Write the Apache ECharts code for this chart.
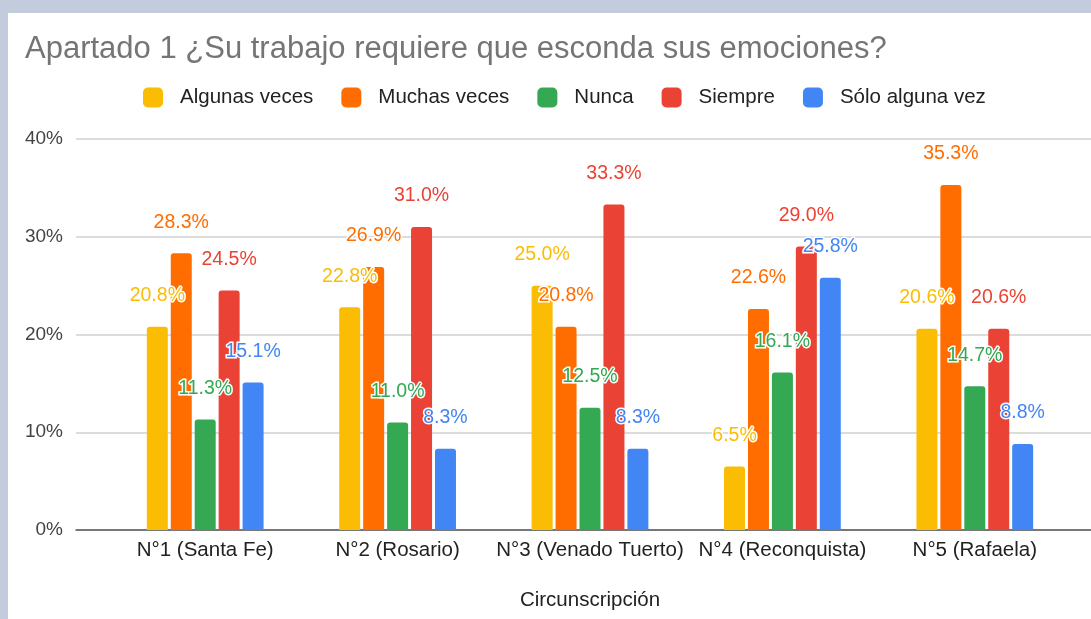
<!DOCTYPE html>
<html>
<head>
<meta charset="utf-8">
<script src="https://cdn.jsdelivr.net/npm/echarts@6/dist/echarts.min.js"></script>
<style>
  html, body { margin: 0; padding: 0; background: #c3ccdc; }
  #card { position: absolute; left: 8px; top: 13px; width: 1083px; height: 606px; background: #fff; }
  #chart { position: absolute; left: 0; top: 0; width: 1091px; height: 619px; }
</style>
</head>
<body>
<div id="card"></div>
<div id="chart"></div>
<script>
  const categories = ["N°1 (Santa Fe)", "N°2 (Rosario)", "N°3 (Venado Tuerto)", "N°4 (Reconquista)", "N°5 (Rafaela)"];
  const seriesNames = ["Algunas veces", "Muchas veces", "Nunca", "Siempre", "Sólo alguna vez"];
  const seriesColors = ["#fbbc04", "#ff6d01", "#34a853", "#ea4335", "#4285f4"];
  const algunasVeces = [20.8, 22.8, 25.0, 6.5, 20.6];
  const muchasVeces = [28.3, 26.9, 20.8, 22.6, 35.3];
  const nunca = [11.3, 11.0, 12.5, 16.1, 14.7];
  const siempre = [24.5, 31.0, 33.3, 29.0, 20.6];
  const soloAlgunaVez = [15.1, 8.3, 8.3, 25.8, 8.8];
  const yTicks = [0, 10, 20, 30, 40];

  const values = [algunasVeces, muchasVeces, nunca, siempre, soloAlgunaVez];
  const font = "Liberation Sans, Arial, sans-serif";

  const chart = echarts.init(document.getElementById("chart"));

  const barSeries = seriesNames.map((name, i) => ({
    name: name,
    type: "bar",
    xAxisIndex: 0,
    yAxisIndex: 0,
    barWidth: 21,
    barGap: "14%",
    data: values[i],
    itemStyle: { color: seriesColors[i], borderRadius: [3, 3, 0, 0] },
    label: {
      show: true,
      position: "top",
      distance: 21,
      color: seriesColors[i],
      fontFamily: font,
      fontSize: 19.5,
      textBorderColor: "#fff",
      textBorderWidth: 3,
      formatter: (p) => p.value.toFixed(1) + "%",
    },
  }));

  chart.setOption({
    animation: false,
    title: {
      text: "Apartado 1 ¿Su trabajo requiere que esconda sus emociones?",
      left: 20,
      top: 29,
      textStyle: { color: "#757575", fontSize: 31, fontWeight: "normal", fontFamily: font },
    },
    legend: {
      data: seriesNames,
      left: 143,
      top: 87,
      padding: 0,
      icon: "roundRect",
      itemWidth: 20,
      itemHeight: 20,
      itemGap: 28,
      textStyle: { color: "#222", fontSize: 20.5, fontFamily: font, padding: [0, 0, 0, 12] },
    },
    grid: [
      { left: 109, right: 20, top: 139, bottom: 89 },
      { left: 76, right: 0, top: 139, bottom: 89 },
    ],
    xAxis: [
      {
        gridIndex: 0,
        type: "category",
        data: categories,
        axisLine: { show: false },
        axisTick: { show: false },
        axisLabel: { color: "#222", fontSize: 20.5, fontFamily: font, margin: 10, interval: 0 },
        name: "Circunscripción",
        nameLocation: "middle",
        nameGap: 60,
        nameTextStyle: { color: "#222", fontSize: 20.5, fontFamily: font },
      },
      {
        gridIndex: 1,
        type: "value",
        min: 0,
        max: 1,
        axisLine: { show: true, lineStyle: { color: "#555", width: 1.5 } },
        axisTick: { show: false },
        axisLabel: { show: false },
        splitLine: { show: false },
      },
    ],
    yAxis: [
      {
        gridIndex: 0,
        type: "value",
        min: 0,
        max: 40,
        interval: 10,
        show: false,
      },
      {
        gridIndex: 1,
        type: "value",
        min: yTicks[0],
        max: yTicks[yTicks.length - 1],
        interval: 10,
        axisLine: { show: false },
        axisTick: { show: false },
        axisLabel: { color: "#444", fontSize: 19, fontFamily: font, margin: 13, formatter: "{value}%" },
        splitLine: { lineStyle: { color: "#d0d0d0", width: 1.5 } },
      },
    ],
    series: barSeries,
  });
</script>
</body>
</html>
